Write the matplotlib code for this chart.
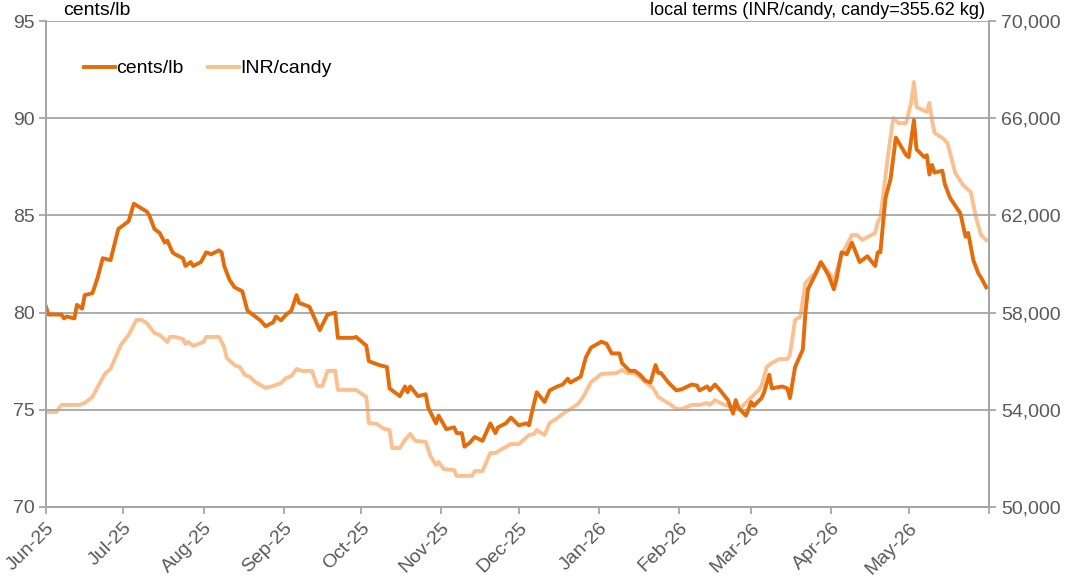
import numpy as np
import pandas as pd
import matplotlib
matplotlib.use("Agg")
import matplotlib.pyplot as plt
import matplotlib.dates as mdates

plt.rcParams['font.family'] = ['Liberation Sans', 'DejaVu Sans']

# cents/lb series (date, value)
cents_dates = [
    "2025-06-01", "2025-06-02", "2025-06-07", "2025-06-08", "2025-06-09", "2025-06-12", "2025-06-13",
    "2025-06-15", "2025-06-16", "2025-06-19", "2025-06-21", "2025-06-23", "2025-06-26", "2025-06-29",
    "2025-07-03", "2025-07-05", "2025-07-10", "2025-07-11", "2025-07-13", "2025-07-15", "2025-07-17",
    "2025-07-18", "2025-07-20", "2025-07-21", "2025-07-24", "2025-07-25", "2025-07-27", "2025-07-28",
    "2025-07-31", "2025-08-02", "2025-08-04", "2025-08-07", "2025-08-08", "2025-08-09", "2025-08-11",
    "2025-08-13", "2025-08-16", "2025-08-18", "2025-08-20", "2025-08-23", "2025-08-25", "2025-08-28",
    "2025-08-29", "2025-08-31", "2025-09-02", "2025-09-04", "2025-09-06", "2025-09-07", "2025-09-09",
    "2025-09-11", "2025-09-15", "2025-09-18", "2025-09-21", "2025-09-22", "2025-09-28", "2025-09-29",
    "2025-10-03", "2025-10-04", "2025-10-08", "2025-10-11", "2025-10-12", "2025-10-16", "2025-10-18",
    "2025-10-19", "2025-10-20", "2025-10-23", "2025-10-26", "2025-10-27", "2025-10-30", "2025-10-31",
    "2025-11-03", "2025-11-06", "2025-11-07", "2025-11-09", "2025-11-10", "2025-11-12", "2025-11-14",
    "2025-11-17", "2025-11-20", "2025-11-22", "2025-11-23", "2025-11-26", "2025-11-28", "2025-12-01",
    "2025-12-04", "2025-12-05", "2025-12-06", "2025-12-08", "2025-12-11", "2025-12-13", "2025-12-16",
    "2025-12-18", "2025-12-20", "2025-12-21", "2025-12-25", "2025-12-27", "2025-12-29", "2026-01-02",
    "2026-01-04", "2026-01-06", "2026-01-09", "2026-01-10", "2026-01-13", "2026-01-15", "2026-01-17",
    "2026-01-19", "2026-01-21", "2026-01-23", "2026-01-24", "2026-01-25", "2026-01-28", "2026-01-31",
    "2026-02-02", "2026-02-06", "2026-02-08", "2026-02-09", "2026-02-12", "2026-02-13", "2026-02-15",
    "2026-02-17", "2026-02-20", "2026-02-22", "2026-02-23", "2026-02-24", "2026-02-27", "2026-03-01",
    "2026-03-02", "2026-03-05", "2026-03-06", "2026-03-08", "2026-03-09", "2026-03-13", "2026-03-15",
    "2026-03-16", "2026-03-18", "2026-03-21", "2026-03-22", "2026-03-23", "2026-03-26", "2026-03-28",
    "2026-03-31", "2026-04-02", "2026-04-03", "2026-04-05", "2026-04-07", "2026-04-09", "2026-04-12",
    "2026-04-15", "2026-04-18", "2026-04-19", "2026-04-20", "2026-04-22", "2026-04-24", "2026-04-26",
    "2026-04-30", "2026-05-01", "2026-05-03", "2026-05-04", "2026-05-07", "2026-05-08", "2026-05-09",
    "2026-05-10", "2026-05-11", "2026-05-14", "2026-05-15", "2026-05-17", "2026-05-21", "2026-05-23",
    "2026-05-24", "2026-05-26", "2026-05-28", "2026-05-29", "2026-05-31",
]
cents_values = [
    80.3, 79.9, 79.9, 79.7, 79.8, 79.7, 80.4,
    80.2, 80.9, 81.0, 81.8, 82.8, 82.7, 84.3,
    84.7, 85.6, 85.2, 85.0, 84.3, 84.1, 83.6,
    83.7, 83.1, 83.0, 82.8, 82.4, 82.6, 82.4,
    82.6, 83.1, 83.0, 83.2, 83.1, 82.4, 81.7,
    81.3, 81.1, 80.1, 79.9, 79.6, 79.3, 79.5,
    79.8, 79.6, 79.9, 80.1, 80.9, 80.5, 80.4,
    80.3, 79.1, 79.9, 80.0, 78.7, 78.7, 78.75,
    78.3, 77.5, 77.3, 77.2, 76.1, 75.7, 76.2,
    75.9, 76.2, 75.7, 75.8, 75.1, 74.3, 74.7,
    74.0, 74.1, 73.8, 73.8, 73.1, 73.3, 73.6,
    73.4, 74.3, 73.8, 74.1, 74.3, 74.6, 74.2,
    74.3, 74.2, 74.8, 75.9, 75.4, 76.0, 76.2,
    76.3, 76.6, 76.4, 76.7, 77.7, 78.2, 78.5,
    78.4, 77.9, 77.9, 77.4, 77.0, 77.0, 76.8,
    76.5, 76.4, 77.3, 76.9, 76.9, 76.4, 76.0,
    76.05, 76.3, 76.25, 76.0, 76.2, 76.0, 76.3,
    76.0, 75.5, 74.8, 75.5, 75.1, 74.7, 75.4,
    75.2, 75.6, 75.9, 76.8, 76.1, 76.2, 76.1,
    75.6, 77.2, 78.1, 80.0, 81.2, 82.0, 82.6,
    81.9, 81.2, 81.7, 83.1, 83.0, 83.6, 82.6,
    82.9, 82.4, 83.1, 83.1, 85.9, 86.9, 89.0,
    88.1, 88.0, 89.9, 88.4, 88.0, 88.1, 87.1,
    87.6, 87.2, 87.3, 86.6, 85.9, 85.1, 83.9,
    84.1, 82.7, 82.0, 81.8, 81.3,
]

# INR/candy series (date, value)
inr_dates = [
    "2025-06-01", "2025-06-05", "2025-06-07", "2025-06-14", "2025-06-16", "2025-06-19", "2025-06-21",
    "2025-06-24", "2025-06-26", "2025-06-30", "2025-07-03", "2025-07-06", "2025-07-08", "2025-07-10",
    "2025-07-13", "2025-07-15", "2025-07-18", "2025-07-19", "2025-07-21", "2025-07-24", "2025-07-25",
    "2025-07-26", "2025-07-28", "2025-08-01", "2025-08-02", "2025-08-07", "2025-08-09", "2025-08-10",
    "2025-08-13", "2025-08-15", "2025-08-17", "2025-08-19", "2025-08-21", "2025-08-25", "2025-08-28",
    "2025-08-31", "2025-09-02", "2025-09-04", "2025-09-06", "2025-09-08", "2025-09-12", "2025-09-14",
    "2025-09-16", "2025-09-18", "2025-09-21", "2025-09-22", "2025-09-29", "2025-10-03", "2025-10-04",
    "2025-10-07", "2025-10-10", "2025-10-12", "2025-10-13", "2025-10-16", "2025-10-18", "2025-10-20",
    "2025-10-22", "2025-10-26", "2025-10-28", "2025-10-30", "2025-10-31", "2025-11-02", "2025-11-06",
    "2025-11-07", "2025-11-13", "2025-11-14", "2025-11-17", "2025-11-20", "2025-11-22", "2025-11-24",
    "2025-11-28", "2025-12-01", "2025-12-05", "2025-12-07", "2025-12-08", "2025-12-11", "2025-12-13",
    "2025-12-16", "2025-12-19", "2025-12-21", "2025-12-24", "2025-12-26", "2025-12-29", "2026-01-02",
    "2026-01-08", "2026-01-10", "2026-01-12", "2026-01-15", "2026-01-19", "2026-01-22", "2026-01-24",
    "2026-01-29", "2026-01-31", "2026-02-02", "2026-02-06", "2026-02-09", "2026-02-12", "2026-02-13",
    "2026-02-15", "2026-02-17", "2026-02-20", "2026-02-22", "2026-02-24", "2026-02-25", "2026-02-28",
    "2026-03-02", "2026-03-04", "2026-03-05", "2026-03-07", "2026-03-09", "2026-03-12", "2026-03-15",
    "2026-03-16", "2026-03-18", "2026-03-20", "2026-03-21", "2026-03-22", "2026-03-26", "2026-03-28",
    "2026-03-31", "2026-04-02", "2026-04-05", "2026-04-09", "2026-04-11", "2026-04-13", "2026-04-18",
    "2026-04-19", "2026-04-20", "2026-04-23", "2026-04-25", "2026-04-27", "2026-04-30", "2026-05-02",
    "2026-05-03", "2026-05-04", "2026-05-08", "2026-05-09", "2026-05-10", "2026-05-11", "2026-05-14",
    "2026-05-16", "2026-05-19", "2026-05-22", "2026-05-25", "2026-05-27", "2026-05-29", "2026-05-31",
]
inr_values = [
    53910, 53910, 54200, 54200, 54280, 54530, 54940,
    55510, 55680, 56670, 57080, 57700, 57700, 57570,
    57160, 57080, 56790, 57000, 57000, 56910, 56710,
    56790, 56630, 56790, 57000, 57000, 56580, 56130,
    55840, 55760, 55430, 55350, 55140, 54900, 54980,
    55100, 55310, 55390, 55680, 55600, 55600, 54980,
    54980, 55600, 55600, 54820, 54820, 54530, 53460,
    53420, 53210, 53170, 52430, 52430, 52760, 53010,
    52720, 52680, 52060, 51730, 51850, 51560, 51520,
    51280, 51280, 51480, 51480, 52220, 52220, 52350,
    52590, 52590, 52960, 53000, 53170, 52960, 53460,
    53660, 53910, 54030, 54240, 54530, 55140, 55470,
    55510, 55640, 55510, 55510, 55140, 54900, 54530,
    54200, 54030, 54030, 54200, 54200, 54280, 54200,
    54400, 54280, 54160, 54120, 54120, 54080, 54400,
    54610, 54820, 54980, 55760, 55930, 56090, 56090,
    56260, 57700, 57820, 58520, 59220, 59670, 60040,
    59670, 59340, 60370, 61190, 61190, 60990, 61280,
    61730, 61890, 64490, 66010, 65800, 65800, 66670,
    67490, 66460, 66260, 66630, 65930, 65390, 65190,
    64980, 63750, 63250, 62960, 61930, 61190, 60990,
]

month_ticks = pd.date_range("2025-06-01", "2026-06-01", freq="MS")

dark = "#E46C0A"
light = "#FAC090"
grid_c = "#A6A6A6"
label_c = "#595959"

fig = plt.figure(figsize=(10.69, 5.79), dpi=100)
ax = fig.add_axes([0.043, 0.1244, 0.882, 0.8393])
ax2 = ax.twinx()
ax.set_zorder(ax2.get_zorder() + 1)
ax.patch.set_visible(False)

l2, = ax2.plot(pd.to_datetime(inr_dates), inr_values, color=light, lw=2.8,
               solid_joinstyle="round", label="INR/candy")
l1, = ax.plot(pd.to_datetime(cents_dates), cents_values, color=dark, lw=2.8,
              solid_joinstyle="round", label="cents/lb")

ax.set_ylim(70, 95)
ax.set_yticks([70, 75, 80, 85, 90, 95])
ax2.set_ylim(50000, 70000)
ax2.set_yticks([50000, 54000, 58000, 62000, 66000, 70000])
ax2.set_yticklabels([f"{v:,}" for v in [50000, 54000, 58000, 62000, 66000, 70000]])

ax.set_xlim(month_ticks[0], month_ticks[-1])
ax.set_xticks(month_ticks)
ax.set_xticklabels([d.strftime("%b-%y") for d in month_ticks[:-1]] + [""])

for y in [75, 80, 85, 90, 95]:
    ax.axhline(y, color=grid_c, lw=1.3, zorder=0)

for a in (ax, ax2):
    for s in a.spines.values():
        s.set_color(grid_c)
        s.set_linewidth(1.3)
    a.spines["top"].set_visible(False)
    a.tick_params(colors=grid_c, labelcolor=label_c, labelsize=14, width=1.3, length=5)

plt.setp(ax.get_xticklabels(), rotation=45, ha="right", va="top", rotation_mode="anchor")
ax.tick_params(axis="x", pad=4)
ax.tick_params(axis="y", pad=3)
ax2.tick_params(axis="y", pad=4)

ax.text(0.018, 1.004, "cents/lb", transform=ax.transAxes, fontsize=14, ha="left", va="bottom")
ax.text(0.996, 1.004, "local terms (INR/candy, candy=355.62 kg)", transform=ax.transAxes,
        fontsize=13, ha="right", va="bottom")

ax.legend(handles=[l1, l2], loc="center left", bbox_to_anchor=(0.022, 0.902), ncol=2,
          frameon=False, fontsize=14, handlelength=1.6, handletextpad=0.05,
          columnspacing=1.25)

fig.savefig("out.png", dpi=100)
